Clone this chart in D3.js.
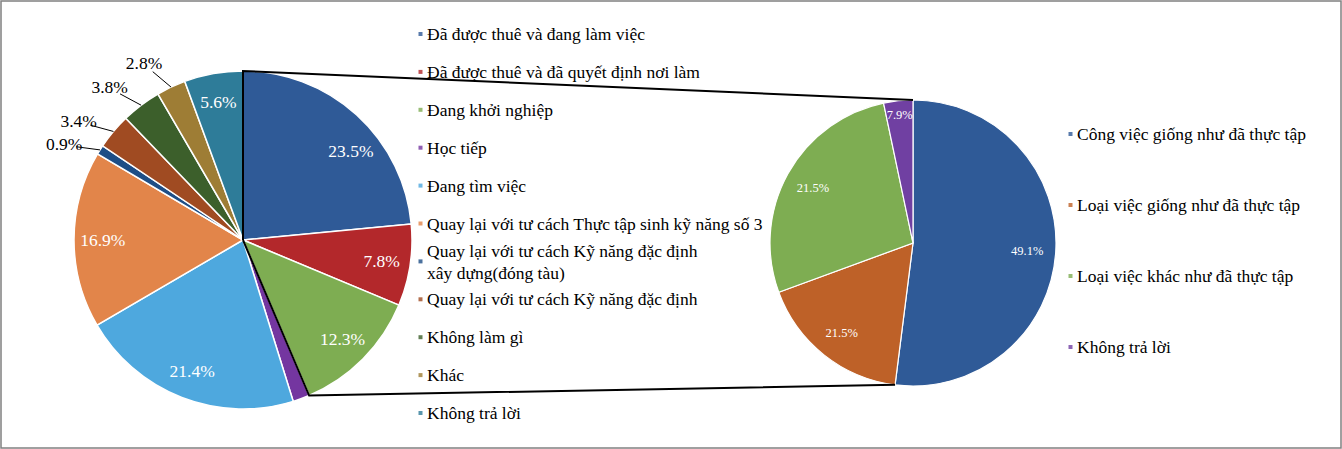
<!DOCTYPE html>
<html><head><meta charset="utf-8">
<script src="https://cdn.jsdelivr.net/npm/d3@7"></script>
<style>body{margin:0;background:#fff}svg{display:block}</style>
</head><body><svg id="c" width="1342" height="449"></svg>
<script>
const mainCategories = [
  "Đã được thuê và đang làm việc",
  "Đã được thuê và đã quyết định nơi làm",
  "Đang khởi nghiệp",
  "Học tiếp",
  "Đang tìm việc",
  "Quay lại với tư cách Thực tập sinh kỹ năng số 3",
  "Quay lại với tư cách Kỹ năng đặc định\nxây dựng(đóng tàu)",
  "Quay lại với tư cách Kỹ năng đặc định",
  "Không làm gì",
  "Khác",
  "Không trả lời"
];
const mainValues = [23.5, 7.8, 12.3, 1.6, 21.4, 16.9, 0.9, 3.4, 3.8, 2.8, 5.6];
const mainLabels = ["23.5%", "7.8%", "12.3%", "", "21.4%", "16.9%", "0.9%", "3.4%", "3.8%", "2.8%", "5.6%"];
const mainColors = ["#2F5A97", "#B3282B", "#7EAD52", "#7436A0", "#4EA8DE", "#E2854A", "#1E4E86", "#A04B22", "#3C5F2B", "#9E7D35", "#2E7C99"];

const subCategories = [
  "Công việc giống như đã thực tập",
  "Loại việc giống như đã thực tập",
  "Loại việc khác như đã thực tập",
  "Không trả lời"
];
const subValues = [52.0, 17.4, 27.3, 3.3];
const subLabels = ["49.1%", "21.5%", "21.5%", "7.9%"];
const subColors = ["#2F5A97", "#BE6128", "#7EAD52", "#7040A2"];
const explodedCount = 3; // first three main slices are broken out into the second pie

const FONT = "'Liberation Serif','Times New Roman',serif";
const svg = d3.select("#c");

svg.append("rect").attr("x", 1).attr("y", 1).attr("width", 1340).attr("height", 447)
  .attr("fill", "#fff").attr("stroke", "#808080").attr("stroke-width", 1.5);

const L = {cx: 243, cy: 240, r: 169};
const R = {cx: 913, cy: 243, r: 143};

const pie = d3.pie().sort(null).value(d => d);
const mainArcs = pie(mainValues);
const subArcs = pie(subValues);

const pt = (c, rad, a) => [c.cx + rad * Math.sin(a), c.cy - rad * Math.cos(a)];
const deg = Math.PI / 180;

// main pie
const gL = svg.append("g").attr("transform", `translate(${L.cx},${L.cy})`);
const arcL = d3.arc().innerRadius(0).outerRadius(L.r);
gL.selectAll("path").data(mainArcs).join("path")
  .attr("d", arcL).attr("fill", (d, i) => mainColors[i])
  .attr("stroke", "#fff").attr("stroke-width", 1.5);

mainArcs.forEach((d, i) => {
  if (!mainLabels[i]) return;
  let mid = (d.startAngle + d.endAngle) / 2;
  if (mainValues[i] < 5) {
    const p0 = [L.r * Math.sin(mid), -L.r * Math.cos(mid)];
    const a1 = mid - 3 * deg, r1 = L.r + 22;
    const p1 = [r1 * Math.sin(a1), -r1 * Math.cos(a1)];
    gL.append("line").attr("x1", p0[0]).attr("y1", p0[1]).attr("x2", p1[0]).attr("y2", p1[1])
      .attr("stroke", "#000").attr("stroke-width", 1);
    const a2 = mid - 4 * deg, r2 = L.r + 34;
    gL.append("text").attr("x", r2 * Math.sin(a2)).attr("y", -r2 * Math.cos(a2))
      .attr("text-anchor", "middle").attr("dy", "0.35em")
      .attr("font-family", FONT).attr("font-size", 17.5).attr("fill", "#000")
      .text(mainLabels[i]);
  } else {
    if (i === 0) mid += 8 * deg; // label nudged away from the connector, as in the original
    const rr = L.r * 0.83;
    gL.append("text").attr("x", rr * Math.sin(mid)).attr("y", -rr * Math.cos(mid))
      .attr("text-anchor", "middle").attr("dy", "0.35em")
      .attr("font-family", FONT).attr("font-size", 17.5).attr("fill", "#fff")
      .text(mainLabels[i]);
  }
});

// sub pie
const gR = svg.append("g").attr("transform", `translate(${R.cx},${R.cy})`);
const arcR = d3.arc().innerRadius(0).outerRadius(R.r);
gR.selectAll("path").data(subArcs).join("path")
  .attr("d", arcR).attr("fill", (d, i) => subColors[i])
  .attr("stroke", "#fff").attr("stroke-width", 1.2);
subArcs.forEach((d, i) => {
  const f = subValues[i] < 5 ? 0.9 : 0.8;
  const c = d3.arc().innerRadius(R.r * f).outerRadius(R.r * f).centroid(d);
  gR.append("text").attr("x", c[0]).attr("y", c[1])
    .attr("text-anchor", "middle").attr("dy", "0.35em")
    .attr("font-family", FONT).attr("font-size", 12.5).attr("fill", "#fff")
    .text(subLabels[i]);
});

// connector lines
const grpStart = mainArcs[0].startAngle, grpEnd = mainArcs[explodedCount - 1].endAngle;
const lTop = pt(L, L.r, grpStart), lBot = pt(L, L.r, grpEnd);
const rTop = pt(R, R.r, subArcs[0].startAngle), rBot = pt(R, R.r, subArcs[0].endAngle);
const conn = d3.path();
conn.moveTo(L.cx, L.cy); conn.lineTo(lTop[0], lTop[1]); conn.lineTo(rTop[0], rTop[1]);
conn.moveTo(L.cx, L.cy); conn.lineTo(lBot[0], lBot[1]); conn.lineTo(rBot[0], rBot[1]);
svg.append("path").attr("d", conn.toString()).attr("fill", "none")
  .attr("stroke", "#000").attr("stroke-width", 2);

// left legend
const legL = svg.append("g");
mainCategories.forEach((name, i) => {
  const y = 34 + i * 37.9;
  legL.append("rect").attr("x", 418.5).attr("y", y - 2).attr("width", 4).attr("height", 4)
    .attr("fill", mainColors[i]).attr("opacity", 0.8);
  const lines = name.split("\n");
  const t = legL.append("text").attr("font-family", FONT).attr("font-size", 17.5).attr("fill", "#000");
  lines.forEach((ln, k) => {
    t.append("tspan").attr("x", 427)
      .attr("y", y + (k - (lines.length - 1) / 2) * 22).attr("dy", "0.35em").text(ln);
  });
});

// right legend
const legR = svg.append("g");
subCategories.forEach((name, i) => {
  const y = 134 + i * 71;
  legR.append("rect").attr("x", 1068.5).attr("y", y - 2).attr("width", 4).attr("height", 4)
    .attr("fill", subColors[i]).attr("opacity", 0.8);
  legR.append("text").attr("x", 1077).attr("y", y).attr("dy", "0.35em")
    .attr("font-family", FONT).attr("font-size", 17.5).attr("fill", "#000").text(name);
});
</script></body></html>
